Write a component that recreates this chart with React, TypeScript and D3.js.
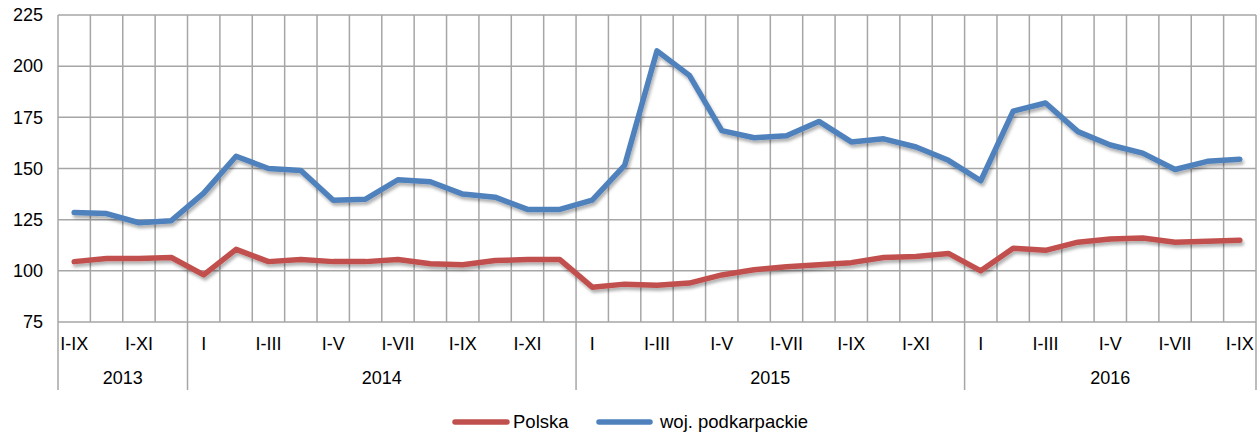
import React from "react";
import * as d3 from "d3";

// cumulative periods shown on the x axis
const periods = [
  "I-IX", "I-X", "I-XI", "I-XII",
  "I", "I-II", "I-III", "I-IV", "I-V", "I-VI", "I-VII", "I-VIII", "I-IX", "I-X", "I-XI", "I-XII",
  "I", "I-II", "I-III", "I-IV", "I-V", "I-VI", "I-VII", "I-VIII", "I-IX", "I-X", "I-XI", "I-XII",
  "I", "I-II", "I-III", "I-IV", "I-V", "I-VI", "I-VII", "I-VIII", "I-IX",
];
const years = ["2013", "2014", "2015", "2016"];
const periodsPerYear = [4, 12, 12, 9];

const polska = [
  104.5, 106, 106, 106.5,
  98, 110.5, 104.5, 105.5, 104.5, 104.5, 105.5, 103.5, 103, 105, 105.5, 105.5,
  92, 93.5, 93, 94, 98, 100.5, 102, 103, 104, 106.5, 107, 108.5,
  100, 111, 110, 114, 115.5, 116, 114, 114.5, 115,
];
const podkarpackie = [
  128.5, 128, 123.5, 124.5,
  138, 156, 150, 149, 134.5, 135, 144.5, 143.5, 137.5, 136, 130, 130,
  134.5, 151.5, 207.5, 195.5, 168.5, 165, 166, 173, 163, 164.5, 160.5, 154,
  144, 178, 182, 168, 161.5, 157.5, 149.5, 153.5, 154.5,
];
const yTicks = [75, 100, 125, 150, 175, 200, 225];

const series = [
  { name: "Polska", values: polska, color: "#C0504D" },
  { name: "woj. podkarpackie", values: podkarpackie, color: "#4F81BD" },
];

const W = 1260;
const H = 434;
const margin = { top: 15, right: 4, bottom: 112, left: 58 };
const font = "'Liberation Sans', Arial, sans-serif";
const fs = 18;

export default function App() {
  const innerW = W - margin.left - margin.right;
  const innerH = H - margin.top - margin.bottom;

  const x = d3
    .scaleBand<number>()
    .domain(d3.range(periods.length))
    .range([0, innerW])
    .padding(0);
  const y = d3.scaleLinear().domain([75, 225]).range([innerH, 0]);

  const line = d3
    .line<number>()
    .x((_, i) => (x(i) || 0) + x.bandwidth() / 2)
    .y((d) => y(d));

  // year group boundaries
  const bounds: number[] = [0];
  periodsPerYear.forEach((n) => bounds.push(bounds[bounds.length - 1] + n));

  const gridColor = "#A6A6A6";

  return (
    <svg
      width={W}
      height={H}
      style={{ position: "absolute", left: 0, top: 0, background: "#fff" }}
      fontFamily={font}
    >
      <defs>
        <filter id="shadow" x="-5%" y="-20%" width="110%" height="150%">
          <feDropShadow dx="1.5" dy="3" stdDeviation="1.8" floodColor="#000" floodOpacity="0.3" />
        </filter>
      </defs>
      <g transform={`translate(${margin.left},${margin.top})`}>
        {/* horizontal grid */}
        {yTicks.map((t) => (
          <line key={t} x1={0} x2={innerW} y1={y(t)} y2={y(t)} stroke={gridColor} strokeWidth={1.5} />
        ))}
        {/* vertical grid at every period boundary */}
        {d3.range(periods.length + 1).map((i) => {
          const xx = i === periods.length ? innerW : x(i) || 0;
          const isYear = bounds.includes(i);
          return (
            <line
              key={i}
              x1={xx}
              x2={xx}
              y1={0}
              y2={isYear ? innerH + 68 : innerH}
              stroke={gridColor}
              strokeWidth={1.5}
            />
          );
        })}
        {/* y labels */}
        {yTicks.map((t) => (
          <text key={t} x={-15} y={y(t)} dy="0.35em" textAnchor="end" fontSize={fs} fill="#000">
            {t}
          </text>
        ))}
        {/* period labels, every other */}
        {periods.map((p, i) =>
          i % 2 === 0 ? (
            <text
              key={i}
              x={(x(i) || 0) + x.bandwidth() / 2}
              y={innerH + 22}
              dy="0.35em"
              textAnchor="middle"
              fontSize={fs}
              fill="#000"
            >
              {p}
            </text>
          ) : null
        )}
        {/* year labels */}
        {years.map((yr, k) => {
          const x0 = x(bounds[k]) || 0;
          const x1 = bounds[k + 1] === periods.length ? innerW : x(bounds[k + 1]) || 0;
          return (
            <text key={yr} x={(x0 + x1) / 2} y={innerH + 56} dy="0.35em" textAnchor="middle" fontSize={fs} fill="#000">
              {yr}
            </text>
          );
        })}
        {/* series */}
        {series.map((s) => (
          <path
            key={s.name}
            d={line(s.values) || ""}
            fill="none"
            stroke={s.color}
            strokeWidth={5.5}
            strokeLinejoin="round"
            strokeLinecap="round"
            filter="url(#shadow)"
          />
        ))}
      </g>
      {/* legend */}
      <g transform="translate(0,422)">
        <line x1={455} x2={507} y1={0} y2={0} stroke={series[0].color} strokeWidth={5.5} strokeLinecap="round" />
        <text x={513} y={0} dy="0.35em" fontSize={18.5} fill="#000">
          {series[0].name}
        </text>
        <line x1={599} x2={650} y1={0} y2={0} stroke={series[1].color} strokeWidth={5.5} strokeLinecap="round" />
        <text x={660} y={0} dy="0.35em" fontSize={18.5} fill="#000">
          {series[1].name}
        </text>
      </g>
    </svg>
  );
}
